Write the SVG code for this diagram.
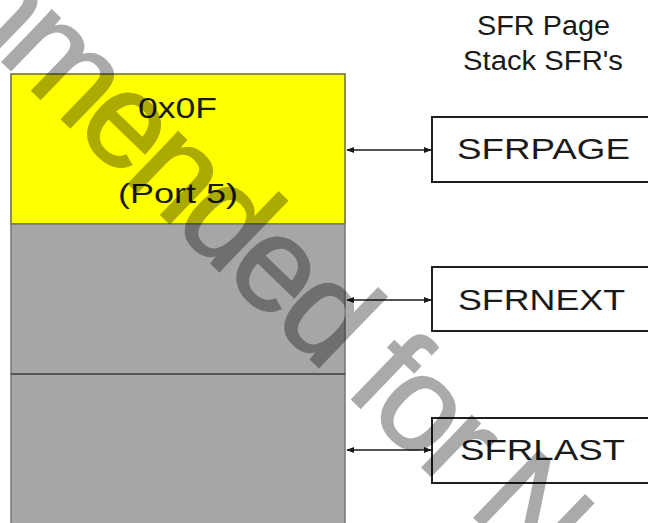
<svg xmlns="http://www.w3.org/2000/svg" width="648" height="523" viewBox="0 0 648 523">
  <defs>
    <marker id="ah" viewBox="0 0 10 10" refX="9" refY="5" markerWidth="8" markerHeight="8" markerUnits="userSpaceOnUse" orient="auto-start-reverse">
      <path d="M0,1 L10,5 L0,9 Z" fill="#1a1a1a"/>
    </marker>
    <pattern id="dither" width="2" height="2" patternUnits="userSpaceOnUse">
      <rect width="2" height="2" fill="#ababab"/>
      <rect width="1" height="1" fill="#a2a2a2"/>
      <rect x="1" y="1" width="1" height="1" fill="#a2a2a2"/>
    </pattern>
  </defs>
  <style>
    .t { font-family: "Liberation Sans", Arial, sans-serif; fill: #1a1a1a; }
    .reg { stroke: #1f1f1f; stroke-width: 2; fill: #ffffff; }
    .conn { stroke: #1a1a1a; stroke-width: 1.6; fill: none; }
    .wm { font-family: "Liberation Sans", Arial, sans-serif; fill: #000; stroke: #000; stroke-width: 2; letter-spacing: -6px; }
  </style>
  <rect width="648" height="523" fill="#ffffff"/>

  <g id="page-stack">
    <rect x="11" y="74" width="334" height="150" fill="#ffff00" stroke="#6a6a3a" stroke-width="1.5"/>
    <rect x="11" y="224" width="334" height="150" fill="url(#dither)" stroke="#777777" stroke-width="1.5"/>
    <rect x="11" y="374" width="334" height="152" fill="url(#dither)" stroke="#777777" stroke-width="1.5"/>
    <line x1="11" y1="374" x2="345" y2="374" stroke="#555555" stroke-width="2"/>
    <text class="t" x="138" y="118" font-size="29" textLength="79" lengthAdjust="spacingAndGlyphs">0x0F</text>
    <text class="t" x="118" y="203" font-size="28" textLength="120" lengthAdjust="spacingAndGlyphs">(Port 5)</text>
  </g>

  <g id="header">
    <text class="t" x="477" y="35" font-size="27" textLength="133" lengthAdjust="spacingAndGlyphs">SFR Page</text>
    <text class="t" x="463" y="70" font-size="27" textLength="160" lengthAdjust="spacingAndGlyphs">Stack SFR's</text>
  </g>

  <g id="sfrpage">
    <rect class="reg" x="432" y="117" width="220" height="65"/>
    <text class="t" x="457" y="159" font-size="30" textLength="173" lengthAdjust="spacingAndGlyphs">SFRPAGE</text>
  </g>
  <g id="sfrnext">
    <rect class="reg" x="432" y="267" width="220" height="64"/>
    <text class="t" x="458" y="310" font-size="30" textLength="167" lengthAdjust="spacingAndGlyphs">SFRNEXT</text>
  </g>
  <g id="sfrlast">
    <rect class="reg" x="432" y="418" width="220" height="65"/>
    <text class="t" x="460" y="460" font-size="30" textLength="165" lengthAdjust="spacingAndGlyphs">SFRLAST</text>
  </g>

  <g id="connectors">
    <line class="conn" x1="347" y1="150" x2="431" y2="150" marker-start="url(#ah)" marker-end="url(#ah)"/>
    <line class="conn" x1="347" y1="300" x2="431" y2="300" marker-start="url(#ah)" marker-end="url(#ah)"/>
    <line class="conn" x1="347" y1="450" x2="431" y2="450" marker-start="url(#ah)" marker-end="url(#ah)"/>
  </g>

  <g id="watermark" opacity="0.33">
    <text class="wm" transform="translate(392,438) rotate(44)" x="-1172" y="0" font-size="135">Not Recommended for New Designs</text>
  </g>
</svg>
